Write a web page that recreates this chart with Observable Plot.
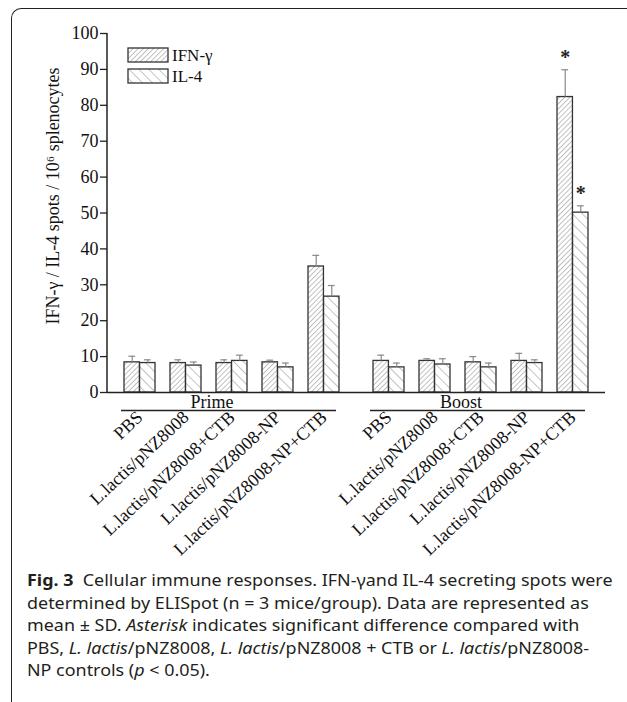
<!DOCTYPE html>
<html>
<head>
<meta charset="utf-8">
<script src="https://cdn.jsdelivr.net/npm/d3@7"></script>
<script src="https://cdn.jsdelivr.net/npm/@observablehq/plot@0.6"></script>
<style>
html,body{margin:0;padding:0;background:#fff;}
#wrap{position:relative;width:627px;height:702px;overflow:hidden;background:#fff;}
#frame{position:absolute;left:11px;top:8px;width:700px;height:800px;border-top:1.5px solid #222;border-left:1.5px solid #222;border-top-left-radius:10px;}
#chart{position:absolute;left:0;top:0;}
#legend{position:absolute;left:0;top:0;}
#caption{position:absolute;left:27px;top:569px;font-family:"Noto Sans",sans-serif;font-size:16px;line-height:22.5px;color:#231f20;white-space:nowrap;transform:scaleX(1.12);transform-origin:0 0;}
#caption b{font-weight:700;}
</style>
</head>
<body>
<svg width="0" height="0" style="position:absolute">
  <defs>
    <pattern id="hIFN" patternUnits="userSpaceOnUse" width="3.6" height="3.6" patternTransform="rotate(45)">
      <rect width="3.6" height="3.6" fill="#fff"/>
      <line x1="0" y1="0" x2="0" y2="3.6" stroke="#777" stroke-width="0.9"/>
    </pattern>
    <pattern id="hIL4" patternUnits="userSpaceOnUse" width="7" height="7" patternTransform="rotate(-45)">
      <rect width="7" height="7" fill="#fff"/>
      <line x1="0" y1="0" x2="0" y2="7" stroke="#777" stroke-width="0.9"/>
    </pattern>
  </defs>
</svg>
<div id="wrap">
  <div id="frame"></div>
  <div id="chart"></div>
  <svg id="legend" width="627" height="100"></svg>
  <div id="caption"><b>Fig. 3</b>&nbsp; Cellular immune responses. IFN-γand IL-4 secreting spots were<br>determined by ELISpot (n = 3 mice/group). Data are represented as<br>mean ± SD. <i>Asterisk</i> indicates significant difference compared with<br>PBS, <i>L. lactis</i>/pNZ8008, <i>L. lactis</i>/pNZ8008 + CTB or <i>L. lactis</i>/pNZ8008-<br>NP controls (<i>p</i> &lt; 0.05).</div>
</div>
<script>
// ---- data ----
const phases = ["Prime", "Boost"];
const groups = ["PBS", "L.lactis/pNZ8008", "L.lactis/pNZ8008+CTB", "L.lactis/pNZ8008-NP", "L.lactis/pNZ8008-NP+CTB"];
const seriesNames = ["IFN-γ", "IL-4"];
const ifnPrime   = [8.4, 8.2, 8.2, 8.4, 35.1];
const ifnPrimeSD = [1.7, 0.9, 0.9, 0.6, 3.1];
const il4Prime   = [8.2, 7.5, 8.8, 7.0, 26.7];
const il4PrimeSD = [0.9, 1.0, 1.6, 1.2, 3.1];
const ifnBoost   = [8.8, 8.8, 8.4, 8.8, 82.3];
const ifnBoostSD = [1.6, 0.6, 1.6, 2.1, 7.6];
const il4Boost   = [7.0, 7.8, 7.0, 8.2, 50.1];
const il4BoostSD = [1.2, 1.6, 1.2, 0.9, 1.9];
const sigBoost   = [false, false, false, false, true];
const yTicks = [0, 10, 20, 30, 40, 50, 60, 70, 80, 90, 100];
const yLabel = "IFN-γ / IL-4 spots / 10⁶ splenocytes";

// ---- table ----
function build(phase, vals, sds, sig) {
  return groups.map((g, i) => ({phase, group: g, value: vals[i], sd: sds[i], top: vals[i] + sds[i], sig: sig ? sig[i] : false}));
}
const ifnRows = build("Prime", ifnPrime, ifnPrimeSD).concat(build("Boost", ifnBoost, ifnBoostSD, sigBoost));
const il4Rows = build("Prime", il4Prime, il4PrimeSD).concat(build("Boost", il4Boost, il4BoostSD, sigBoost));

// ---- layout ----
const W = 627, H = 570, ML = 107, MR = 22, MT = 33, MB = 178;
const facetW = (W - ML - MR) / phases.length;
const step = facetW / (groups.length + 1 / 3);
const bw = step * 2 / 3;
const half = bw / 2;
const cap = 3.5;
const serif = "'Liberation Serif', 'Times New Roman', serif";
const errColor = "#8a8a8a";

function errMarks(rows, side) {
  const off = side * half / 2;
  const insL = side < 0 ? half / 2 - cap : half + half / 2 - cap;
  const insR = bw - insL - 2 * cap;
  return [
    Plot.ruleX(rows, {fx: "phase", x: "group", y1: "value", y2: "top", dx: off, stroke: errColor, strokeWidth: 1.2}),
    Plot.tickY(rows, {fx: "phase", x: "group", y: "top", insetLeft: insL, insetRight: insR, stroke: errColor, strokeWidth: 1.2}),
    Plot.text(rows.filter(d => d.sig), {fx: "phase", x: "group", y: "top", text: () => "*", dx: off, dy: -6, lineAnchor: "bottom", fontSize: 20, fontWeight: "bold", fontFamily: serif, fill: "#222"})
  ];
}

const chart = Plot.plot({
  width: W, height: H,
  marginLeft: ML, marginRight: MR, marginTop: MT, marginBottom: MB,
  style: {fontFamily: serif, fontSize: "18px", color: "#111", background: "transparent"},
  fx: {domain: phases, padding: 0, axis: null, label: null},
  x: {domain: groups, padding: 1 / 3, label: null},
  y: {domain: [0, 100], label: null},
  marks: [
    Plot.barY(ifnRows, {fx: "phase", x: "group", y: "value", fill: "url(#hIFN)", stroke: "#333", strokeWidth: 1.3, insetRight: half}),
    Plot.barY(il4Rows, {fx: "phase", x: "group", y: "value", fill: "url(#hIL4)", stroke: "#333", strokeWidth: 1.3, insetLeft: half}),
    ...errMarks(ifnRows, -1),
    ...errMarks(il4Rows, 1),
    Plot.ruleY([0], {stroke: "#222", strokeWidth: 1.5}),
    Plot.ruleY([0], {x1: () => groups[0], x2: () => groups[groups.length - 1], dy: 18, dx: -3, stroke: "#222", strokeWidth: 1.5}),
    Plot.text(phases, {fx: d => d, x: () => groups[2], text: d => d, frameAnchor: "bottom", lineAnchor: "middle", dy: 10, dx: -20, fontSize: 18, fontFamily: serif}),
    Plot.axisY({ticks: yTicks, tickSize: 7, tickPadding: 2, label: null, fontSize: 18, fontFamily: serif, stroke: "#222", strokeWidth: 1.3}),
    Plot.axisX({tickRotate: -43, tickSize: 0, tickPadding: 22, label: null, fontSize: 18, fontFamily: serif}),
    Plot.text([{phase: phases[0]}], {fx: "phase", text: () => yLabel, frameAnchor: "left", textAnchor: "middle", lineAnchor: "middle", rotate: -90, dx: -54, dy: -17, fontSize: 18, fontFamily: serif})
  ]
});
document.getElementById("chart").appendChild(chart);

// y-axis domain line, through the y scale
const ys = chart.scale("y");
d3.select(chart).append("line")
  .attr("x1", ML).attr("x2", ML)
  .attr("y1", ys.apply(yTicks[0])).attr("y2", ys.apply(yTicks[yTicks.length - 1]))
  .attr("stroke", "#222").attr("stroke-width", 1.5);

// legend
const leg = d3.select("#legend");
const fills = ["url(#hIFN)", "url(#hIL4)"];
seriesNames.forEach((s, i) => {
  const g = leg.append("g").attr("transform", `translate(128,${48 + i * 21})`);
  g.append("rect").attr("width", 40).attr("height", 14).attr("fill", fills[i]).attr("stroke", "#333").attr("stroke-width", 1.3);
  g.append("text").attr("x", 44).attr("y", 12.5).attr("font-family", serif).attr("font-size", 17).attr("fill", "#111").text(s);
});
</script>
</body>
</html>
